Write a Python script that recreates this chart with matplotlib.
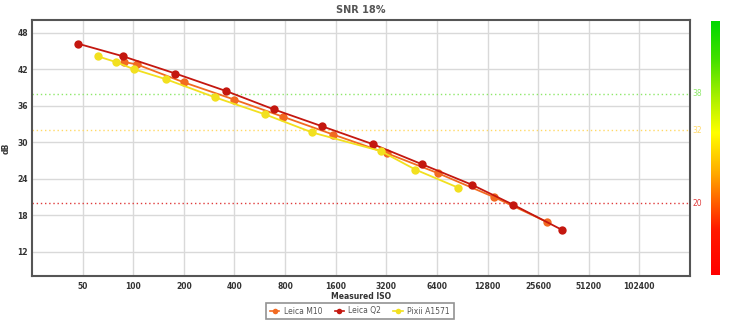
import matplotlib
matplotlib.use("Agg")
import matplotlib.pyplot as plt
import numpy as np
from matplotlib.colors import LinearSegmentedColormap
from matplotlib.lines import Line2D

# Measured ISO / SNR 18% (dB) per camera
m10_iso = [88, 105, 200, 400, 776, 1550, 3215, 6500, 14050, 28850]
m10_db = [43.2, 42.8, 39.85, 37.0, 34.2, 31.25, 28.2, 24.9, 20.95, 16.9]

q2_iso = [47, 86.5, 178, 358, 686, 1335, 2680, 5250, 10350, 18250, 35400]
q2_db = [46.2, 44.15, 41.3, 38.4, 35.4, 32.6, 29.65, 26.35, 23.0, 19.7, 15.6]

pixii_iso = [62, 78.6, 101, 157, 305, 606, 1161, 2965, 4765, 8600]
pixii_db = [44.1, 43.2, 42.0, 40.35, 37.4, 34.6, 31.6, 28.55, 25.5, 22.5]

x_ticks = [50, 100, 200, 400, 800, 1600, 3200, 6400, 12800, 25600, 51200, 102400]
y_ticks = [12, 18, 24, 30, 36, 42, 48]

ref_levels = [38, 32, 20]
ref_colors = ["#8ee86a", "#ffd966", "#e03c3c"]

series = [
    ("Leica M10", m10_iso, m10_db, "#f26a21"),
    ("Leica Q2", q2_iso, q2_db, "#c4170f"),
    ("Pixii A1571", pixii_iso, pixii_db, "#f2e01f"),
]

fig = plt.figure(figsize=(7.38, 3.30), dpi=100)
ax = fig.add_axes([32 / 738, 1 - 276 / 330, 658 / 738, 256 / 330])

ax.set_xscale("log", base=2)
ax.set_xlim(25, 204800)
ax.set_ylim(8, 50.1)

ax.set_xticks(x_ticks)
ax.set_xticklabels([str(t) for t in x_ticks])
ax.set_yticks(y_ticks)
ax.set_yticklabels([str(t) for t in y_ticks])
ax.minorticks_off()
ax.tick_params(axis="both", length=0, labelsize=5.5, labelcolor="#333333")
ax.tick_params(axis="x", pad=4)
ax.tick_params(axis="y", pad=3)
for lbl in ax.get_xticklabels() + ax.get_yticklabels():
    lbl.set_fontweight("bold")

ax.grid(True, color="#d9d9d9", linewidth=1.0)
ax.set_axisbelow(True)
for side, sp in ax.spines.items():
    sp.set_color("#555555")
    sp.set_linewidth(1.5)

for lvl, col in zip(ref_levels, ref_colors):
    ax.axhline(lvl, color=col, linestyle=(0, (1, 2)), linewidth=1.0, zorder=1.5)
    ax.text(1.004, lvl, str(lvl), transform=ax.get_yaxis_transform(),
            color=col, fontsize=5.5, va="center", ha="left")

for name, xs, ys, col in series:
    ax.plot(xs, ys, color=col, linewidth=1.3, marker="o", markersize=6,
            markeredgewidth=0, zorder=3)

ax.set_title("SNR 18%", fontsize=7, fontweight="bold", color="#555555", pad=5)
ax.set_xlabel("Measured ISO", fontsize=5.5, fontweight="bold", color="#333333", labelpad=1)
ax.set_ylabel("dB", fontsize=5.5, fontweight="bold", color="#333333", labelpad=5)

handles = [Line2D([0], [0], color=c, marker="o", markersize=4, linewidth=1.2,
                  markeredgewidth=0) for _, _, _, c in series]
leg = fig.legend(handles, [s[0] for s in series], loc="center",
                 bbox_to_anchor=(360 / 738, 1 - 311 / 330), ncol=3,
                 fontsize=5.5, frameon=True, fancybox=False, handlelength=1.2,
                 handletextpad=0.6, columnspacing=1.6, borderpad=0.5)
leg.get_frame().set_edgecolor("#777777")
leg.get_frame().set_linewidth(1.2)
for t in leg.get_texts():
    t.set_color("#555555")

# color scale bar on the right
cmap = LinearSegmentedColormap.from_list(
    "snr",
    [(0.0, "#ff0000"), (0.18, "#ff1a00"), (0.40, "#ffaa00"), (0.56, "#ffff00"),
     (0.70, "#aaf000"), (0.85, "#44e000"), (1.0, "#00d800")],
)
cax = fig.add_axes([711 / 738, 1 - 275 / 330, 9 / 738, 254 / 330])
grad = np.linspace(0, 1, 256).reshape(-1, 1)
cax.imshow(grad, cmap=cmap, aspect="auto", origin="lower")
cax.set_axis_off()

fig.savefig("out.png", dpi=100)
